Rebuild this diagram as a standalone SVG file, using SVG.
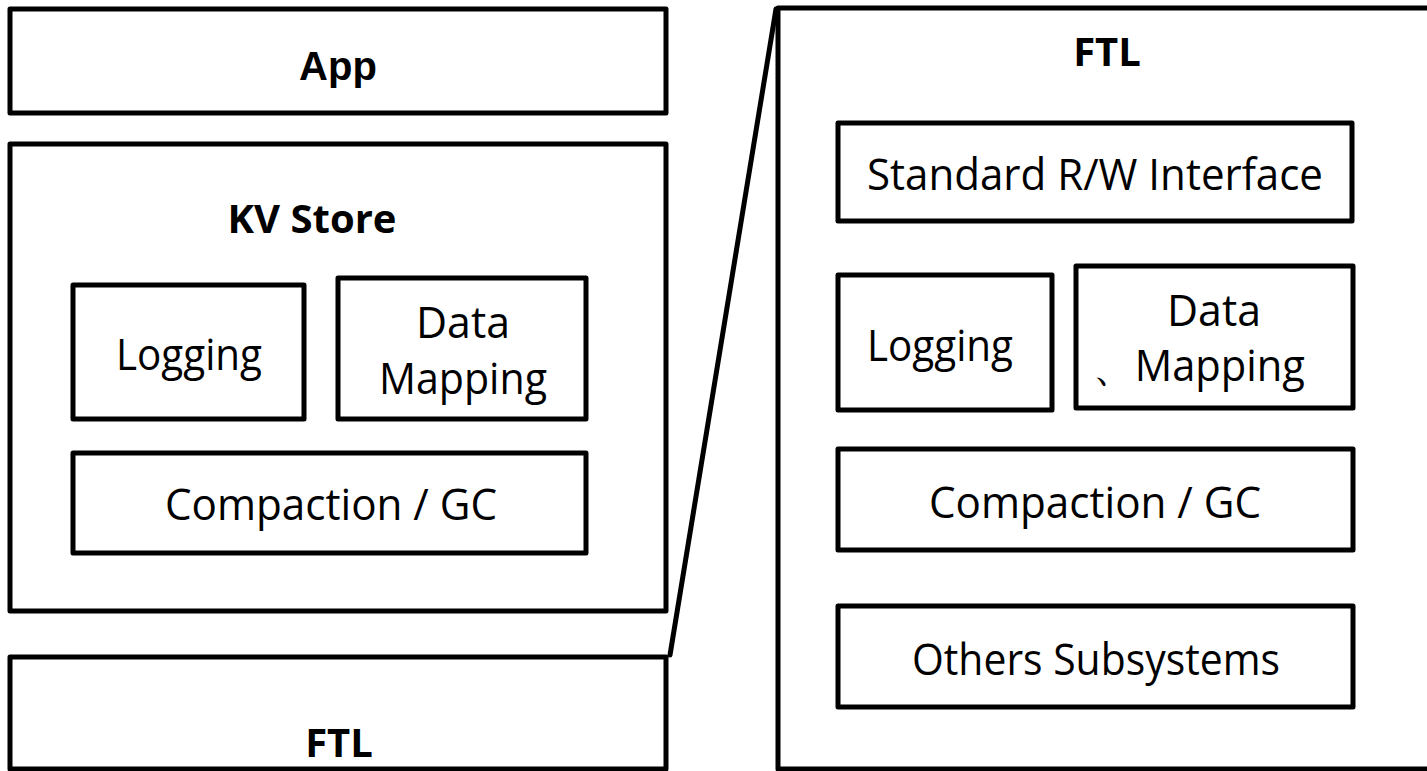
<svg xmlns="http://www.w3.org/2000/svg" width="1427" height="771" viewBox="0 0 1427 771">
  <style>
    .box { fill: #ffffff; stroke: #000000; stroke-width: 5; stroke-linejoin: round; }
    .edge { fill: none; stroke: #000000; stroke-width: 5; stroke-linecap: round; }
    .title { font-family: "Open Sans", "Liberation Sans", sans-serif; font-weight: bold; font-size: 40px; fill: #000000; text-anchor: middle; }
    .app { font-family: "Liberation Sans", Arial, sans-serif; font-weight: bold; font-size: 40px; fill: #000000; text-anchor: middle; }
    .label { font-family: "Open Sans", "Liberation Sans", sans-serif; font-size: 43px; fill: #000000; text-anchor: middle; }
  </style>
  <rect width="1427" height="771" fill="#ffffff"/>

  <!-- left stack -->
  <g id="app">
    <rect class="box" x="10" y="9" width="656" height="104"/>
    <text class="app" x="338" y="80">App</text>
  </g>

  <g id="kv-store">
    <rect class="box" x="10" y="144" width="656" height="467"/>
    <text class="title" x="312" y="233">KV Store</text>
  </g>

  <g id="kv-logging">
    <rect class="box" x="73" y="285" width="231" height="134"/>
    <text class="label" x="189" y="370" textLength="146" lengthAdjust="spacingAndGlyphs">Logging</text>
  </g>

  <g id="kv-data-mapping">
    <rect class="box" x="338" y="278" width="248" height="141"/>
    <text class="label" x="463" y="338" textLength="94" lengthAdjust="spacingAndGlyphs">Data</text>
    <text class="label" x="463" y="394" textLength="168" lengthAdjust="spacingAndGlyphs">Mapping</text>
  </g>

  <g id="kv-compaction">
    <rect class="box" x="73" y="453" width="513" height="100"/>
    <text class="label" x="331" y="520" textLength="332" lengthAdjust="spacingAndGlyphs">Compaction / GC</text>
  </g>

  <g id="ftl-small">
    <rect class="box" x="10" y="657" width="656" height="112"/>
    <text class="title" x="339" y="757">FTL</text>
  </g>

  <!-- expanded FTL on the right -->
  <g id="ftl-detail">
    <rect class="box" x="778" y="8" width="700" height="761"/>
    <text class="title" x="1107" y="66">FTL</text>
  </g>

  <g id="ftl-rw-interface">
    <rect class="box" x="838" y="123" width="514" height="98"/>
    <text class="label" x="1095" y="190" textLength="456" lengthAdjust="spacingAndGlyphs">Standard R/W Interface</text>
  </g>

  <g id="ftl-logging">
    <rect class="box" x="838" y="275" width="214" height="135"/>
    <text class="label" x="940" y="361" textLength="146" lengthAdjust="spacingAndGlyphs">Logging</text>
  </g>

  <g id="ftl-data-mapping">
    <rect class="box" x="1076" y="266" width="277" height="142"/>
    <text class="label" x="1214" y="326" textLength="94" lengthAdjust="spacingAndGlyphs">Data</text>
    <text class="label" x="1199" y="381" textLength="212" lengthAdjust="spacingAndGlyphs">、Mapping</text>
  </g>

  <g id="ftl-compaction">
    <rect class="box" x="838" y="449" width="515" height="101"/>
    <text class="label" x="1095" y="518" textLength="332" lengthAdjust="spacingAndGlyphs">Compaction / GC</text>
  </g>

  <g id="ftl-others">
    <rect class="box" x="838" y="606" width="515" height="101"/>
    <text class="label" x="1096" y="675" textLength="368" lengthAdjust="spacingAndGlyphs">Others Subsystems</text>
  </g>

  <!-- zoom-out line linking the small FTL block to its expanded view -->
  <g id="connectors">
    <path class="edge" d="M 670 655 L 776 9"/>
  </g>
</svg>
